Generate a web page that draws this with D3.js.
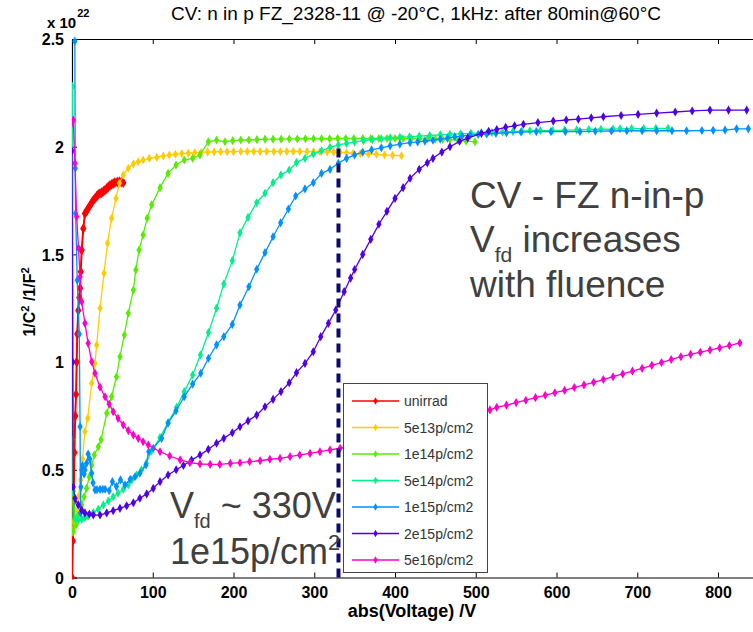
<!DOCTYPE html>
<html>
<head>
<meta charset="utf-8">
<script src="https://cdn.jsdelivr.net/npm/d3@7"></script>
<style>
  html, body { margin: 0; padding: 0; background: #fff; }
  svg { display: block; }
</style>
</head>
<body>
<svg id="chart" width="753" height="632"></svg>
<script>
// CV measurements, 1/C^2 (units of 1e22 F^-2) versus |bias voltage| in V
const unirrad = [[0,0],[1,0.17],[2,0.35],[3,0.58],[4,0.75],[5,0.85],[5.8,1.0],[6.5,1.13],[7.8,1.24],[9,1.3],[10,1.343],[10.8,1.42],[12,1.52],[14,1.62],[16,1.69],[18,1.7],[20,1.714],[22,1.725],[24.4,1.74],[26.5,1.752],[28.5,1.76],[30.5,1.77],[32.6,1.779],[34.7,1.783],[36.8,1.786],[39,1.793],[41,1.799],[43,1.806],[45,1.814],[47,1.82],[49,1.825],[51,1.829],[53,1.833],[56,1.836],[58.6,1.838],[61,1.836],[63.5,1.833]];

const f5e13 = [[0,0.21],[2,0.26],[4,0.25],[5.8,0.313],[7.8,0.375],[10.8,0.453],[13,0.55],[16,0.677],[19.4,0.739],[24.4,0.902],[28.5,0.994],[30.5,1.079],[34.7,1.25],[39.6,1.412],[44,1.552],[49,1.668],[54.5,1.76],[58.6,1.83],[63.5,1.869],[69.7,1.9],[76,1.92],[82,1.93],[88,1.938],[95.7,1.946],[105,1.951],[113,1.957],[120.5,1.961],[128,1.965],[136,1.968],[144,1.97],[152,1.972],[160,1.974],[168,1.975],[176,1.976],[184,1.977],[192,1.977],[200,1.977],[209,1.978],[217,1.978],[225,1.978],[233,1.978],[241,1.978],[250,1.978],[258,1.978],[266,1.978],[274,1.978],[282,1.978],[291,1.977],[299,1.977],[307,1.977],[316,1.976],[324,1.975],[332,1.974],[340,1.972],[348,1.969],[357,1.968],[367,1.966],[377,1.965],[387,1.962],[397,1.96],[408,1.958]];

const f1e14 = [[0,0.64],[1.6,0.213],[5,0.244],[7.8,0.29],[12,0.337],[14.9,0.375],[18,0.414],[21.5,0.468],[24.4,0.522],[27.6,0.569],[32.6,0.607],[36,0.64],[43,0.762],[49,0.839],[55,0.932],[59.4,1.025],[64.8,1.126],[69.7,1.227],[76,1.335],[79,1.428],[83,1.52],[88,1.59],[93,1.668],[98.7,1.73],[109,1.81],[119,1.876],[128.8,1.915],[139,1.938],[149.4,1.946],[158.5,1.962],[168.8,2.023],[179,2.031],[189.5,2.023],[199,2.028],[209,2.031],[219,2.031],[229,2.033],[239,2.035],[249,2.035],[259,2.035],[269,2.036],[279,2.036],[289,2.037],[299,2.037],[309,2.037],[319,2.037],[329,2.038],[339,2.038],[349,2.038],[360,2.038],[370,2.038],[380,2.038],[390,2.038],[400,2.038],[410,2.037],[420,2.037],[430,2.036],[440,2.036],[450,2.035],[459,2.034],[468,2.034],[478,2.03],[488,2.026],[499,2.023]];

const f5e14 = [[0.5,2.28],[1.5,0.4],[3.7,0.275],[7.8,0.267],[12,0.27],[16,0.279],[20,0.285],[26.4,0.301],[32.6,0.317],[38.8,0.337],[45,0.355],[51,0.375],[57,0.391],[63.5,0.41],[69.7,0.43],[74,0.453],[80,0.476],[86,0.5],[92,0.53],[98,0.585],[109,0.65],[119,0.72],[129.6,0.79],[139,0.863],[149.4,0.94],[159,1.033],[169,1.137],[179,1.25],[188,1.363],[198.5,1.471],[208,1.6],[218,1.672],[228.7,1.74],[239,1.784],[249,1.833],[258.8,1.869],[269,1.892],[278,1.927],[288.5,1.946],[298.8,1.966],[309,1.981],[319.5,1.997],[329.8,2.008],[340,2.015],[350,2.022],[361,2.028],[372,2.033],[383,2.037],[394,2.041],[406,2.044],[418,2.046],[430,2.049],[443,2.052],[456,2.055],[468,2.058],[481,2.06],[494,2.062],[507,2.064],[520,2.066],[533,2.068],[546,2.07],[557,2.072],[567,2.074],[580,2.075],[595,2.075],[610,2.077],[625,2.078],[640,2.08],[655,2.081],[670,2.082],[678.6,2.083],[693,2.084],[708,2.084],[723,2.085],[738,2.085]];

const f1e15 = [[3.5,2.49],[4,1.9],[4.5,1.69],[6.5,1.38],[9,1.13],[10,0.7],[10.5,0.3],[11,0.42],[12,0.5],[13,0.52],[15,0.48],[16,0.499],[18,0.53],[20,0.573],[22,0.55],[24.4,0.484],[26,0.44],[28.5,0.406],[31,0.408],[34.7,0.409],[38,0.41],[41,0.41],[46,0.403],[50,0.445],[55,0.422],[60,0.453],[65.6,0.43],[72,0.456],[78,0.468],[84,0.484],[91.6,0.522],[95,0.584],[100.7,0.6],[111,0.646],[119,0.716],[128.8,0.774],[139,0.839],[149.4,0.898],[159.4,0.948],[169,1.018],[179,1.08],[188,1.118],[198.5,1.175],[208,1.265],[219,1.35],[228.7,1.431],[239,1.508],[249,1.582],[258.4,1.647],[268,1.711],[277,1.771],[288.5,1.804],[298.8,1.833],[309,1.876],[319.5,1.895],[329.8,1.923],[340,1.946],[350,1.962],[360,1.975],[371,1.985],[383,1.995],[394,2.004],[406,2.012],[418.6,2.019],[428,2.022],[437,2.026],[447,2.03],[456,2.035],[465,2.04],[474,2.046],[483,2.05],[493,2.054],[503,2.057],[513.5,2.059],[525,2.062],[538,2.065],[556,2.068],[575,2.07],[593,2.07],[611,2.07],[629,2.07],[648,2.072],[668,2.073],[687,2.074],[706,2.074],[724,2.074],[743,2.074],[761,2.074],[780,2.075],[794,2.076],[808.7,2.077],[823,2.083],[837.5,2.083]];

const f2e15 = [[0,1.98],[0.8,1.0],[1.6,0.42],[3.7,0.368],[7.8,0.337],[12,0.313],[16,0.3],[21.5,0.295],[26.4,0.29],[34.7,0.29],[43,0.3],[51,0.31],[59.4,0.321],[67.7,0.333],[76,0.347],[84,0.368],[92.5,0.388],[100.7,0.414],[109,0.445],[119,0.476],[129,0.5],[138,0.52],[148,0.545],[158.5,0.569],[168.8,0.595],[179,0.623],[188,0.646],[198.5,0.672],[208,0.7],[218,0.727],[228.7,0.754],[239,0.793],[249,0.827],[258.8,0.863],[269,0.904],[278,0.951],[288.5,0.994],[298.8,1.048],[308,1.118],[317.5,1.18],[326.6,1.242],[337,1.327],[345,1.39],[350,1.43],[360,1.5],[370,1.57],[380,1.64],[390,1.7],[400,1.76],[410,1.81],[418.6,1.853],[430,1.895],[440,1.925],[447,1.946],[458,1.975],[468,2.0],[480,2.025],[490,2.04],[507,2.062],[516,2.072],[526,2.08],[537,2.09],[548,2.097],[559,2.104],[577,2.112],[596,2.119],[612,2.124],[627,2.128],[643,2.134],[658,2.139],[680,2.145],[701,2.15],[724,2.156],[747,2.161],[768,2.166],[790,2.17],[813,2.17],[835.5,2.17]];

const f5e16 = [[0,2.11],[1.5,2.124],[3.7,1.923],[5.8,1.675],[8,1.53],[10,1.396],[12,1.28],[16,1.18],[20,1.087],[24.4,1.002],[28.5,0.948],[34.7,0.883],[40.9,0.839],[46,0.805],[51,0.77],[57,0.739],[63.5,0.708],[69.7,0.682],[76,0.662],[82,0.646],[88,0.63],[94.5,0.615],[109,0.584],[121,0.564],[134,0.546],[146,0.533],[158.5,0.527],[171,0.525],[183,0.525],[196,0.53],[208,0.533],[220,0.538],[233,0.542],[245,0.549],[257.6,0.553],[270,0.561],[282,0.569],[294.7,0.576],[307,0.584],[319.5,0.592],[332,0.6],[345,0.61],[358,0.62],[370,0.632],[383,0.643],[395,0.655],[408,0.667],[420,0.679],[433,0.69],[445,0.703],[458,0.716],[470,0.728],[482,0.741],[494,0.753],[506,0.766],[517.6,0.778],[526,0.79],[538,0.8],[550,0.812],[562,0.823],[574,0.835],[586,0.846],[598,0.858],[610,0.869],[622,0.882],[634,0.894],[646,0.906],[658,0.919],[670,0.932],[682,0.945],[694,0.958],[706,0.971],[718,0.985],[730,0.998],[742,1.012],[754,1.025],[766,1.036],[778,1.046],[790,1.056],[802,1.066],[814,1.077],[827,1.089]];

const seriesNames = ["unirrad","5e13p/cm2","1e14p/cm2","5e14p/cm2","1e15p/cm2","2e15p/cm2","5e16p/cm2"];
const seriesData = [unirrad, f5e13, f1e14, f5e14, f1e15, f2e15, f5e16];
const seriesColors = ["#ff0000","#ffcc00","#55ee00","#00f08a","#0090ff","#5000e8","#ff00cc"];

const xTicks = [0,100,200,300,400,500,600,700,800];
const yTicks = [0,0.5,1,1.5,2,2.5];
const vfdVoltage = 330;   // depletion voltage marked for 1e15p/cm2
const vfdTop = 2.0;

const svg = d3.select("#chart");
const plot = { left: 72, top: 39, bottom: 577.5, right: 758.4 };

const x = d3.scaleLinear().domain([0, 850]).range([plot.left, plot.right]);
const y = d3.scaleLinear().domain([0, 2.5]).range([plot.bottom, plot.top]);

const axisFont = "'Liberation Sans Narrow', 'Arial Narrow', sans-serif";
const textFont = "'Liberation Sans', Arial, sans-serif";

svg.append("defs").append("clipPath").attr("id", "plotclip")
  .append("rect").attr("x", plot.left).attr("y", plot.top - 4)
  .attr("width", plot.right - plot.left).attr("height", plot.bottom - plot.top + 6);

// axes: bottom and left with inward ticks, plus the top frame line
const xAxis = svg.append("g").attr("transform", `translate(0,${plot.bottom})`)
  .call(d3.axisBottom(x).tickValues(xTicks).tickSizeInner(-5).tickSizeOuter(0).tickPadding(12));
const yAxis = svg.append("g").attr("transform", `translate(${plot.left},0)`)
  .call(d3.axisLeft(y).tickValues(yTicks).tickSizeInner(-5).tickSizeOuter(0).tickPadding(8)
    .tickFormat(d => d === 0 ? "0" : d3.format("~g")(d)));
const topAxis = svg.append("g").attr("transform", `translate(0,${plot.top})`)
  .call(d3.axisTop(x).tickValues(xTicks).tickSizeInner(-5).tickSizeOuter(0).tickFormat(""));

[xAxis, yAxis, topAxis].forEach(g => {
  g.select(".domain").attr("stroke", "#000").attr("stroke-width", 1.2);
  g.selectAll(".tick line").attr("stroke", "#000").attr("stroke-width", 1);
  g.selectAll(".tick text").attr("fill", "#000").attr("font-family", axisFont)
    .attr("font-weight", "bold").attr("font-size", 16);
});
xAxis.selectAll(".tick text").attr("dy", "0.55em");
yAxis.selectAll(".tick text").attr("dy", "0.35em");

// series lines and markers
const line = d3.line().x(d => x(d[0])).y(d => y(d[1]));
const layer = svg.append("g").attr("clip-path", "url(#plotclip)");

seriesData.forEach((data, i) => {
  const g = layer.append("g");
  const heavy = i === 0;
  g.append("path").datum(data).attr("d", line)
    .attr("fill", "none").attr("stroke", seriesColors[i]).attr("stroke-width", heavy ? 2 : 1.3)
    .attr("stroke-linejoin", "round");
  const marker = d3.symbol().type(d3.symbolDiamond).size(heavy ? 34 : 24);
  g.selectAll("path.pt").data(data).join("path").attr("class", "pt")
    .attr("d", marker)
    .attr("transform", d => `translate(${x(d[0])},${y(d[1])})`)
    .attr("fill", seriesColors[i]);
});

// depletion voltage marker
svg.append("line")
  .attr("x1", x(vfdVoltage)).attr("x2", x(vfdVoltage))
  .attr("y1", y(0)).attr("y2", y(vfdTop))
  .attr("stroke", "#0a0a70").attr("stroke-width", 4).attr("stroke-dasharray", "9,6");

// legend
const lg = svg.append("g");
lg.append("rect").attr("x", 343.5).attr("y", 383.5).attr("width", 144).attr("height", 189)
  .attr("fill", "#fff").attr("stroke", "#444").attr("stroke-width", 1);
seriesNames.forEach((name, i) => {
  const yy = 401 + i * 26.5;
  lg.append("line").attr("x1", 352).attr("x2", 399).attr("y1", yy).attr("y2", yy)
    .attr("stroke", seriesColors[i]).attr("stroke-width", 1.3);
  lg.append("path").attr("d", d3.symbol().type(d3.symbolDiamond).size(16)())
    .attr("transform", `translate(375.5,${yy})`).attr("fill", seriesColors[i]);
  lg.append("text").attr("x", 404).attr("y", yy + 5).text(name)
    .attr("font-family", textFont).attr("font-size", 14).attr("fill", "#333");
});

// title, exponent and axis labels
svg.append("text").attr("x", 416).attr("y", 20).attr("text-anchor", "middle")
  .attr("font-family", axisFont).attr("font-size", 19).attr("fill", "#000")
  .text("CV: n in p FZ_2328-11 @ -20°C, 1kHz: after 80min@60°C");

const expo = svg.append("text").attr("x", 47).attr("y", 28)
  .attr("font-family", axisFont).attr("font-weight", "bold").attr("font-size", 15).attr("fill", "#000");
expo.append("tspan").text("x 10");
expo.append("tspan").attr("dy", -11).attr("dx", 1).attr("font-size", 11).text("22");

svg.append("text").attr("x", 412).attr("y", 617).attr("text-anchor", "middle")
  .attr("font-family", axisFont).attr("font-weight", "bold").attr("font-size", 18).attr("fill", "#000")
  .text("abs(Voltage) /V");

const yl = svg.append("text").attr("transform", "translate(35,302) rotate(-90)")
  .attr("text-anchor", "middle")
  .attr("font-family", axisFont).attr("font-weight", "bold").attr("font-size", 16).attr("fill", "#000");
yl.append("tspan").text("1/C");
yl.append("tspan").attr("dy", -6).attr("font-size", 11).text("2");
yl.append("tspan").attr("dy", 6).text(" /1/F");
yl.append("tspan").attr("dy", -6).attr("font-size", 11).text("2");

// annotations
const noteColor = "#404040";
function note(xp, yp, size) {
  return svg.append("text").attr("x", xp).attr("y", yp)
    .attr("font-family", textFont).attr("font-size", size).attr("fill", noteColor);
}
note(470, 208, 37).text("CV - FZ n-in-p");
const n2 = note(470, 252, 37);
n2.append("tspan").text("V");
n2.append("tspan").attr("dy", 10).attr("font-size", 21).text("fd");
n2.append("tspan").attr("dy", -10).text(" increases");
note(470, 297, 37).text("with fluence");

const n4 = note(170, 518, 36);
n4.append("tspan").text("V");
n4.append("tspan").attr("dy", 10).attr("font-size", 20).text("fd");
n4.append("tspan").attr("dy", -10).text(" ~ 330V");
const n5 = note(170, 564, 36);
n5.append("tspan").text("1e15p/cm");
n5.append("tspan").attr("dy", -14).attr("font-size", 22).text("2");
</script>
</body>
</html>
